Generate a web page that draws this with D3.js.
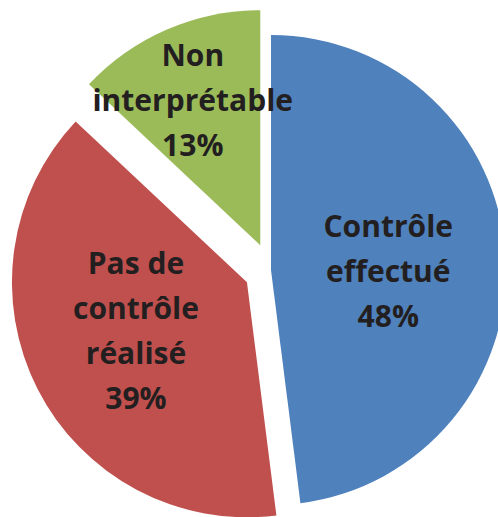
<!DOCTYPE html>
<html>
<head>
    <meta charset="utf-8">
    <title>Contrôles</title>
    <script src="https://d3js.org/d3.v7.min.js"></script>
    <style>
        html, body {
            margin: 0;
            padding: 0;
            background: #fff;
        }
        svg text {
            font-family: "Open Sans", Lato, sans-serif;
            font-weight: 700;
            fill: #231f20;
        }
    </style>
</head>
<body>
    <svg id="chart"></svg>

    <script>
        // chart data
        const categories = ["Contrôle effectué", "Pas de contrôle réalisé", "Non interprétable"];
        const values = [48, 39, 13];
        const labelLines = [
            ["Contrôle", "effectué"],
            ["Pas de", "contrôle", "réalisé"],
            ["Non", "interprétable"]
        ];

        // chart dimensions
        const width = 498;
        const height = 517;
        const radius = 235;
        const cx = 271;
        const cy = 270;

        const colors = ["#4f81bd", "#c0504d", "#9bbb59"];
        const explode = [0, 27, 27]; // pulled-out distance per slice
        // label placement: fraction of radius along mid angle, then small nudge
        const labelPlace = [[0.5, 0, 9], [0.53, 0, -8], [0.67, -5, 0]];
        const lineHeight = 45;

        const svg = d3.select("#chart")
            .attr("width", width)
            .attr("height", height);

        const data = categories.map((c, i) => ({ name: c, value: values[i], lines: labelLines[i], i }));

        const pie = d3.pie()
            .value(d => d.value)
            .sort(null);

        const arc = d3.arc()
            .innerRadius(0)
            .outerRadius(radius);

        const arcs = pie(data);

        // offset of each slice along its mid angle
        function shift(d, dist) {
            const a = (d.startAngle + d.endAngle) / 2;
            return [Math.sin(a) * dist, -Math.cos(a) * dist];
        }

        const slices = svg.selectAll(".slice")
            .data(arcs)
            .enter()
            .append("g")
            .attr("class", "slice")
            .attr("transform", d => {
                const [dx, dy] = shift(d, explode[d.data.i]);
                return `translate(${cx + dx}, ${cy + dy})`;
            });

        slices.append("path")
            .attr("d", arc)
            .attr("fill", d => colors[d.data.i]);

        // labels
        slices.each(function(d) {
            const g = d3.select(this);
            const [frac, nx, ny] = labelPlace[d.data.i];
            const [lx, ly] = shift(d, radius * frac);
            const lines = d.data.lines.concat([d.data.value + "%"]);
            const top = ly + ny - (lines.length - 1) * lineHeight / 2;
            const text = g.append("text")
                .attr("text-anchor", "middle")
                .style("font-size", "30px");
            lines.forEach((t, k) => {
                text.append("tspan")
                    .attr("x", lx + nx)
                    .attr("y", top + k * lineHeight)
                    .attr("dy", "0.35em")
                    .text(t);
            });
        });
    </script>
</body>
</html>
